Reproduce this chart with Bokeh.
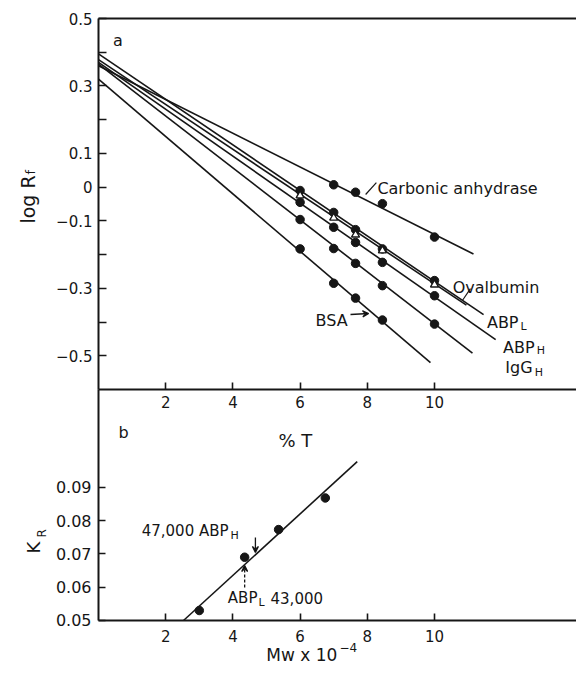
import math
from bokeh.plotting import figure
from bokeh.models import Range1d, LinearAxis, FixedTicker, Label, Arrow, VeeHead
from bokeh.embed import file_html
from bokeh.resources import INLINE

# ---------------- Panel a : log Rf vs %T ----------------
pct_T = [6, 7, 7.65, 8.45, 10]
carbonic_T = [7, 7.65, 8.45, 10]
carbonic = [0.007, -0.015, -0.049, -0.148]
ovalbumin = [-0.025, -0.091, -0.141, -0.188, -0.289]
abp_l = [-0.010, -0.075, -0.126, -0.183, -0.277]
abp_h = [-0.045, -0.119, -0.164, -0.223, -0.322]
igg_h = [-0.096, -0.182, -0.226, -0.292, -0.406]
bsa_T = [6, 7, 7.65, 8.45]
bsa = [-0.183, -0.285, -0.329, -0.394]

# drawn regression lines (from %T = 0 to their end)
fit_x0 = [0, 0, 0, 0, 0, 0]
fit_y0 = [0.36, 0.378, 0.395, 0.37, 0.365, 0.32]
fit_x1 = [11.16, 10.95, 11.46, 11.82, 11.13, 9.88]
fit_y1 = [-0.198, -0.35, -0.378, -0.452, -0.492, -0.52]

ya_ticks = [-0.5, -0.4, -0.3, -0.2, -0.1, 0, 0.1, 0.2, 0.3, 0.4, 0.5]
ya_labels = {-0.5: "\u22120.5", -0.4: "", -0.3: "\u22120.3", -0.2: "", -0.1: "\u22120.1",
             0: "0", 0.1: "0.1", 0.2: "", 0.3: "0.3", 0.4: "", 0.5: "0.5"}
x_ticks = [2, 4, 6, 8, 10]

# ---------------- Panel b : KR vs Mw ----------------
mw = [3.0, 4.35, 5.36, 6.75]
kr = [0.053, 0.069, 0.0773, 0.0868]
kr_fit_x = [2.53, 7.7]
kr_fit_y = [0.050, 0.0977]
yb_ticks = [0.05, 0.06, 0.07, 0.08, 0.09]

INK = "#161616"
FONT = "DejaVu Sans"

# The frame fills the whole canvas; axes are placed at fixed data locations.
p = figure(width=576, height=665,
           x_range=Range1d(-2.9167, 14.226), y_range=Range1d(-1.41818, 0.55337),
           x_axis_location=None, y_axis_location=None,
           toolbar_location=None, output_backend="svg",
           min_border_left=0, min_border_right=0, min_border_top=0, min_border_bottom=0,
           outline_line_color=None, background_fill_color="white", border_fill_color="white")
p.extra_y_ranges = {"b": Range1d(0.036486, 0.236186)}
p.grid.visible = False


def style_axis(ax, size="15px", standoff=6, tick_in=7):
    ax.axis_line_color = INK
    ax.axis_line_width = 2
    ax.major_tick_line_color = INK
    ax.major_tick_line_width = 1.6
    ax.major_tick_in = tick_in
    ax.major_tick_out = 0
    ax.minor_tick_line_color = None
    ax.major_label_text_font = FONT
    ax.major_label_text_font_size = size
    ax.major_label_text_color = INK
    ax.major_label_standoff = standoff


# panel a y axis
ya = LinearAxis(fixed_location=0, bounds=(-0.6, 0.5), ticker=FixedTicker(ticks=ya_ticks))
ya.major_label_overrides = ya_labels
style_axis(ya, "15px", 6, 8)
p.add_layout(ya, "left")

# panel b y axis
yb = LinearAxis(y_range_name="b", fixed_location=0, bounds=(0.05, 0.1194),
                ticker=FixedTicker(ticks=yb_ticks))
style_axis(yb, "16px", 7, 7)
p.add_layout(yb, "left")

# panel a x axis (at log Rf = -0.6)
xa = LinearAxis(fixed_location=-0.6, bounds=(0, 14.3), ticker=FixedTicker(ticks=x_ticks))
style_axis(xa, "15px", 6, 7)
p.add_layout(xa, "below")

# panel b x axis (at KR = 0.05)
xb = LinearAxis(y_range_name="b", fixed_location=0.05, bounds=(0, 14.3),
                ticker=FixedTicker(ticks=x_ticks))
style_axis(xb, "15px", 10, 7)
p.add_layout(xb, "below")

# top border of panel a
top = LinearAxis(fixed_location=0.5, bounds=(0, 14.3), ticker=FixedTicker(ticks=[]))
style_axis(top)
p.add_layout(top, "above")

# ---- panel a glyphs
p.segment(x0=fit_x0, y0=fit_y0, x1=fit_x1, y1=fit_y1, line_color=INK, line_width=1.6)
p.scatter(carbonic_T, carbonic, marker="circle", size=8.5, fill_color=INK, line_color=INK)
p.scatter(pct_T, abp_l, marker="circle", size=8.5, fill_color=INK, line_color=INK)
p.scatter(pct_T, abp_h, marker="circle", size=8.5, fill_color=INK, line_color=INK)
p.scatter(pct_T, igg_h, marker="circle", size=8.5, fill_color=INK, line_color=INK)
p.scatter(bsa_T, bsa, marker="circle", size=8.5, fill_color=INK, line_color=INK)
p.scatter(pct_T, ovalbumin, marker="triangle", size=8, fill_color="white", line_color=INK, line_width=1.4)

# ---- panel b glyphs
p.line(kr_fit_x, kr_fit_y, y_range_name="b", line_color=INK, line_width=1.6)
p.scatter(mw, kr, y_range_name="b", marker="circle", size=8.5, fill_color=INK, line_color=INK)


def lab(x, y, text, size="16px", align="left", base="alphabetic", rng="default", angle=0.0):
    p.add_layout(Label(x=x, y=y, text=text, y_range_name=rng, text_font=FONT,
                       text_font_size=size, text_color=INK, text_align=align,
                       text_baseline=base, angle=angle))


def arrow(x0, y0, x1, y1, rng="default", dash="solid"):
    p.add_layout(Arrow(end=VeeHead(size=6, line_color=INK, line_width=1.3),
                       x_start=x0, y_start=y0, x_end=x1, y_end=y1, y_range_name=rng,
                       line_color=INK, line_width=1.3, line_dash=dash))


# panel a annotations
lab(0.58, 0.436, "a", "16px", "center", "middle")
lab(8.30, -0.004, "Carbonic anhydrase")
p.segment(x0=[8.27], y0=[0.0137], x1=[7.95], y1=[-0.0218], line_color=INK, line_width=1.2)
lab(10.54, -0.2975, "Ovalbumin")
p.segment(x0=[11.07], y0=[-0.3006], x1=[10.83], y1=[-0.336], line_color=INK, line_width=1.2)
lab(12.50, -0.4013, "ABP", align="right")
lab(12.56, -0.413, "L", "11px")
lab(12.98, -0.475, "ABP", align="right")
lab(13.04, -0.484, "H", "11px")
lab(12.92, -0.535, "IgG", align="right")
lab(12.98, -0.5495, "H", "11px")
lab(6.46, -0.395, "BSA")
arrow(7.50, -0.3776, 8.04, -0.3746)

# axis titles
lab(-2.11, -0.108, "log R", "19px", angle=math.pi / 2)
lab(-2.02, 0.0375, "f", "13px", angle=math.pi / 2)
lab(5.86, 0.104, "% T", "18px", "center", rng="b")
lab(0.744, 0.1065, "b", "16px", "center", rng="b")
lab(-1.93, 0.0701, "K", "18px", rng="b", angle=math.pi / 2)
lab(-1.67, 0.0749, "R", "12px", rng="b", angle=math.pi / 2)
lab(7.11, 0.0395, "Mw x 10", "17px", "right", rng="b")
lab(7.17, 0.0419, "\u22124", "12px", rng="b")

# panel b annotations
lab(3.87, 0.077, "47,000 ABP", "15px", "right", rng="b")
lab(3.93, 0.0755, "H", "11px", rng="b")
arrow(4.67, 0.0749, 4.67, 0.0704, rng="b")
lab(4.73, 0.0569, "ABP", "15px", "right", rng="b")
lab(4.76, 0.0554, "L", "11px", rng="b")
lab(5.12, 0.0569, "43,000", "15px", rng="b")
arrow(4.35, 0.0599, 4.35, 0.0665, rng="b", dash="3 2")

open("out.html", "w").write(file_html(p, INLINE))
